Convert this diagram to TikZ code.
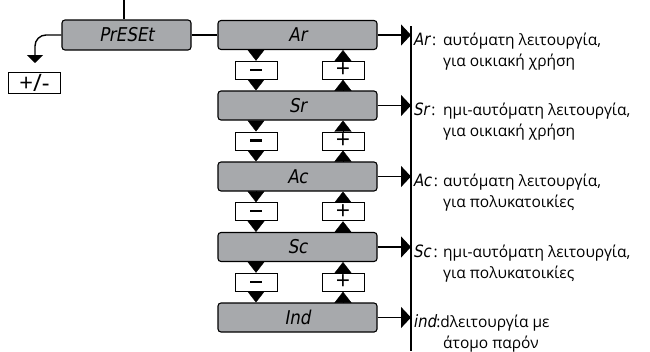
\documentclass[tikz,border=0pt]{standalone}
\usepackage{fontspec}
\setmainfont{Open Sans}
\newfontfamily\disp{DejaVu Sans}[FakeSlant=0.18,FakeStretch=0.88]
\usetikzlibrary{arrows.meta}
\definecolor{panel}{HTML}{A7A9AC}
\newcommand\modetag[1]{\makebox[30pt][l]{{\disp\fontsize{17}{17}\selectfont #1}\,:}}
\begin{document}
\begin{tikzpicture}[x=1pt,y=-1pt,
  display/.style={draw, fill=panel, rounded corners=3pt, line width=1.1pt,
    minimum width=159pt, minimum height=29pt, inner sep=0pt,
    font=\disp\fontsize{19}{19}\selectfont},
  keybox/.style={draw, fill=white, line width=1pt, minimum width=42pt,
    minimum height=18pt, inner sep=0pt, font=\fontsize{25}{25}\selectfont},
  wire/.style={line width=1.4pt},
  flow/.style={wire, -{Triangle[length=10pt,width=21pt]}},
  key/.style={line width=0.3pt, -{Triangle[length=11pt,width=17pt]}},
  desc/.style={anchor=base west, inner sep=0pt, font=\fontsize{15.5}{18}\selectfont}
]
\useasboundingbox (0,0) rectangle (650,351);

% menu entry and sign toggle
\node[display, minimum width=129pt, minimum height=30pt] (preset) at (126.5,35) {PrESEt};
\coordinate (feed) at (124,0);
\draw[wire] (feed) -- (feed |- preset.north);
\node[draw, fill=white, line width=1pt, minimum width=52pt, minimum height=21pt,
  inner sep=0pt, font=\fontsize{24}{24}\selectfont] (pm) at (34.5,82.5) {+/-};
\coordinate (pmtip) at (35,63);
\draw[wire, rounded corners=11pt, -{Triangle[length=8pt,width=16pt]}] (preset.west) -| (pmtip);

% operating modes
\node[display] (ar)  at (297.5,35)    {Ar};
\node[display] (sr)  at (297.5,105.5) {Sr};
\node[display] (ac)  at (297.5,176.5) {Ac};
\node[display] (sc)  at (297.5,247)   {Sc};
\node[display] (ind) at (297.5,317.5) {Ind};
\draw[wire] (preset.east) -- (ar.west);

% minus / plus keys between neighbouring modes
\foreach \up/\dn/\i/\y in {ar/sr/1/70.25, sr/ac/2/141, ac/sc/3/211.75, sc/ind/4/282.25}{
  \node[keybox] (m\i) at (256,\y) {\raisebox{1pt}{\rule{12pt}{2.2pt}}};
  \node[keybox] (p\i) at (343,\y) {\raisebox{-1pt}{+}};
  \draw[key] (\up.south -| m\i) -- (m\i.north);
  \draw[key] (m\i.south) -- (m\i.south |- \dn.north);
  \draw[key] (\dn.north -| p\i) -- (p\i.south);
  \draw[key] (p\i.north) -- (p\i.north |- \up.south);
}

% output bus
\coordinate (vtop) at (411,26);
\coordinate (vbot) at (411,351);
\draw[wire] (vtop) -- (vbot);
\foreach \n in {ar,sr,ac,sc,ind}{
  \draw[flow] (\n.east) -- (\n.east -| vtop);
}

% descriptions
\node[desc] (dar1) at (413,45)  {\modetag{Ar}αυτόματη λειτουργία,};
\node[desc] (dar2) at (443,66)  {για οικιακή χρήση};
\node[desc] (dsr1) at (413,115.5) {\modetag{Sr}ημι-αυτόματη λειτουργία,};
\node[desc] (dsr2) at (443,136.5) {για οικιακή χρήση};
\node[desc] (dac1) at (413,186.5) {\modetag{Ac}αυτόματη λειτουργία,};
\node[desc] (dac2) at (443,207.5) {για πολυκατοικίες};
\node[desc] (dsc1) at (413,257) {\modetag{Sc}ημι-αυτόματη λειτουργία,};
\node[desc] (dsc2) at (443,278) {για πολυκατοικίες};
\node[desc] (din1) at (413,327.5) {{\disp\fontsize{17}{17}\selectfont ind}:dλειτουργία με};
\node[desc] (din2) at (443,348.5) {άτομο παρόν};
\end{tikzpicture}
\end{document}
